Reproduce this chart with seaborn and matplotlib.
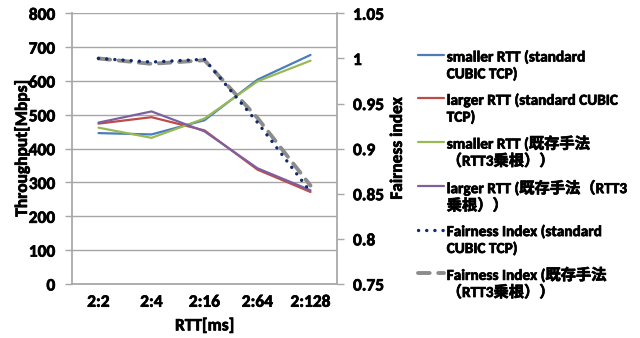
import matplotlib
matplotlib.use("Agg")
import matplotlib.pyplot as plt
import matplotlib.patheffects as pe
from matplotlib.legend_handler import HandlerLine2D
from matplotlib.lines import Line2D
import numpy as np
import seaborn as sns
import pandas as pd

# RTT ratio categories (smaller : larger, in ms)
rtt_labels = ["2:2", "2:4", "2:16", "2:64", "2:128"]

# Throughput [Mbps]
small_cubic = [446, 442, 484, 604, 677]
large_cubic = [474, 493, 454, 338, 272]
small_root3 = [462, 432, 489, 599, 660]
large_root3 = [477, 510, 451, 342, 277]

# Jain's fairness index
fair_cubic = [1.000, 0.996, 0.999, 0.929, 0.852]
fair_root3 = [1.000, 0.994, 0.998, 0.934, 0.859]

sns.set_theme(style="white")
FAMILY = ["Carlito", "Noto Sans CJK JP", "DejaVu Sans"]
plt.rcParams["font.family"] = FAMILY
plt.rcParams["font.weight"] = "bold"

fig = plt.figure(figsize=(6.4, 3.38), dpi=100)
ax = fig.add_axes([0.1125, 0.1598, 0.4141, 0.8008])
ax2 = ax.twinx()

df = pd.DataFrame({
    "rtt": rtt_labels,
    "small_cubic": small_cubic,
    "large_cubic": large_cubic,
    "small_root3": small_root3,
    "large_root3": large_root3,
    "fair_cubic": fair_cubic,
    "fair_root3": fair_root3,
})

throughput_series = [
    ("small_cubic", "#4A7EBB", "smaller RTT (standard\nCUBIC TCP)"),
    ("large_cubic", "#BE4B48", "larger RTT (standard CUBIC\nTCP)"),
    ("small_root3", "#98B954", "smaller RTT (既存手法\n（RTT3乗根））"),
    ("large_root3", "#7D60A0", "larger RTT (既存手法（RTT3\n乗根））"),
]
for col, color, label in throughput_series:
    sns.lineplot(data=df, x="rtt", y=col, ax=ax, color=color, lw=1.6,
                 label=label, sort=False, legend=False)

sns.lineplot(data=df, x="rtt", y="fair_root3", ax=ax2, color="#8C8C8C",
             lw=2.8, sort=False, legend=False,
             label="Fairness Index (既存手法\n（RTT3乗根））")
ax2.lines[-1].set_dashes((3, 2.2))
ax2.lines[-1].set_dash_capstyle("round")
sns.lineplot(data=df, x="rtt", y="fair_cubic", ax=ax2, color="#0F2A6B",
             lw=2.4, sort=False, legend=False,
             label="Fairness Index (standard\nCUBIC TCP)")
ax2.lines[-1].set_linestyle((0, (0.05, 2.4)))
ax2.lines[-1].set_dash_capstyle("round")

grid_c = "#A6A6A6"
ax.set_xlim(-0.5, 4.5)
ax.set_ylim(0, 800)
ax.set_yticks(range(0, 801, 100))
ax2.set_ylim(0.75, 1.05)
ax2.set_yticks([0.75, 0.8, 0.85, 0.9, 0.95, 1.0, 1.05])
ax2.set_yticklabels(["0.75", "0.8", "0.85", "0.9", "0.95", "1", "1.05"])
ax.yaxis.grid(True, color=grid_c, lw=1.0)
ax.set_axisbelow(True)

for a in (ax, ax2):
    for s in a.spines.values():
        s.set_visible(False)
ax.spines["left"].set_visible(True)
ax.spines["left"].set_color(grid_c)
ax.spines["bottom"].set_visible(True)
ax.spines["bottom"].set_color(grid_c)
ax2.spines["right"].set_visible(True)
ax2.spines["right"].set_color(grid_c)

TICK_FS = 12.5
ax.tick_params(axis="y", left=True, length=5, width=1, color=grid_c,
               labelsize=TICK_FS, pad=7)
ax.tick_params(axis="x", bottom=False, labelsize=TICK_FS, pad=1)
ax2.tick_params(axis="y", right=True, length=5, width=1, color=grid_c,
                labelsize=TICK_FS, pad=6.5)

ax.set_xlabel("RTT[ms]", fontsize=TICK_FS, fontweight="bold", va="center")
ax.xaxis.set_label_coords(0.5, -0.153)
ax.set_ylabel("Throughput[Mbps]", fontsize=TICK_FS, fontweight="bold", va="center")
ax.yaxis.set_label_coords(-0.189, 0.5)
ax2.set_ylabel("Fairness index", fontsize=TICK_FS, fontweight="bold", va="center")
ax2.yaxis.set_label_coords(1.226, 0.5)


class FirstLineHandler(HandlerLine2D):
    """Line handle placed beside the first line of a two-line label."""

    def __init__(self, shift, **kw):
        super().__init__(**kw)
        self.shift = shift

    def create_artists(self, legend, orig_handle, xdescent, ydescent,
                       width, height, fontsize, trans):
        arts = super().create_artists(legend, orig_handle, xdescent, ydescent,
                                      width, height, fontsize, trans)
        for a in arts:
            a.set_ydata(np.asarray(a.get_ydata(), dtype=float) + self.shift)
        return arts


LEG_FS = 11
handles = ax.get_lines()[:4] + [ax2.get_lines()[1], ax2.get_lines()[0]]
labels = [h.get_label() for h in handles]
leg = fig.legend(handles, labels, loc="upper left",
                 bbox_to_anchor=(418 / 640, 1 - 50 / 338), frameon=False,
                 fontsize=LEG_FS, handlelength=1.7, handletextpad=0.18,
                 labelspacing=0.74, borderaxespad=0, borderpad=0,
                 handler_map={Line2D: FirstLineHandler(7.6)})
for t in leg.get_texts():
    t.set_linespacing(1.21)

# heavier strokes on all text to give the bold face more weight
bold_fx = [pe.withStroke(linewidth=0.5, foreground="black")]
texts = (ax.get_xticklabels() + ax.get_yticklabels() + ax2.get_yticklabels()
         + [ax.xaxis.label, ax.yaxis.label, ax2.yaxis.label] + leg.get_texts())
for t in texts:
    t.set_fontweight("bold")
    t.set_color("black")
    t.set_path_effects(bold_fx)

fig.savefig("out.png", dpi=100)
